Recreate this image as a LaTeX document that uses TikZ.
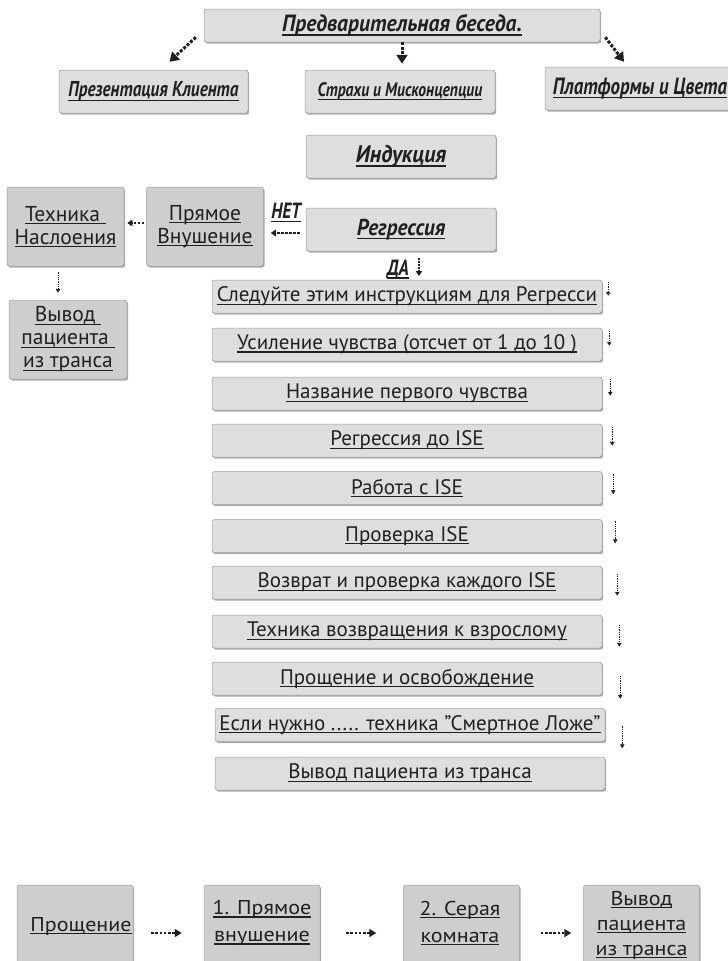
\documentclass[tikz,border=0pt]{standalone}
\usepackage{fontspec}
\setmainfont{PT Sans}
\newfontfamily\condf[FakeStretch=1.1]{PT Sans}
\newfontfamily\hA[FakeStretch=0.8]{PT Sans}
\newfontfamily\hB[FakeStretch=0.92]{PT Sans}
\usetikzlibrary{arrows.meta,shadows}
\definecolor{txt}{HTML}{231F20}
\definecolor{lightbox}{HTML}{DEDEDE}
\definecolor{darkbox}{HTML}{CECECE}
\definecolor{edge}{HTML}{9C9C9C}
\newsavebox\ulbox
\newcommand{\uln}[2][3pt]{\sbox\ulbox{#2}\rlap{\rule[-#1]{\wd\ulbox}{1.2pt}}\usebox\ulbox}
\tikzset{
  gbox/.style={rounded corners=2.5pt, draw=edge, line width=0.5pt, text=txt,
    inner sep=0pt, align=center,
    drop shadow={shadow xshift=1.2pt, shadow yshift=-1.6pt, opacity=0.55, fill=black!60}},
  hbox/.style={gbox, fill=lightbox, minimum width=190pt, minimum height=43pt},
  hfA/.style={font=\hA\bfseries\itshape\fontsize{#1}{24}\selectfont},
  hfB/.style={font=\hB\bfseries\itshape\fontsize{#1}{24}\selectfont},
  stepbox/.style={gbox, fill=lightbox, minimum width=390pt, minimum height=33pt,
    font=\fontsize{21}{24}\selectfont},
  sidebox/.style={gbox, fill=darkbox, minimum width=117pt, minimum height=79pt,
    font=\fontsize{21.5}{23}\selectfont},
  botbox/.style={gbox, fill=darkbox, minimum width=116pt, minimum height=120pt},
  bottxt/.style={text=txt, inner sep=0pt, align=center, font=\condf\fontsize{20}{27}\selectfont},
  yesno/.style={text=txt, inner sep=0pt, font=\hA\bfseries\itshape\fontsize{22}{24}\selectfont},
  bigarrow/.style={draw=txt, line width=3pt, dash pattern=on 3pt off 1.6pt,
    -{Triangle[length=9pt,width=11pt]}},
  medarrow/.style={draw=txt, line width=1.6pt, dash pattern=on 2.5pt off 1.5pt,
    -{Triangle[length=5pt,width=6.5pt]}},
  botarrow/.style={draw=txt, line width=2pt, dash pattern=on 2.6pt off 1.6pt,
    -{Triangle[length=7pt,width=8pt]}},
  tinyarrow/.style={draw=txt, line width=0.9pt, dash pattern=on 1.3pt off 1pt,
    -{Triangle[length=4pt,width=4.5pt]}},
}
\begin{document}
\begin{tikzpicture}[x=1pt,y=-1pt]
\useasboundingbox (0,0) rectangle (728,961);
\fill[white] (0,0) rectangle (728,961);
\clip (0,0) rectangle (728,961);

% top part
\node[hbox, hfB=23.5, minimum width=396pt, minimum height=33pt] (pre) at (402,25.5) {\uln[4pt]{Предварительная беседа.}};
\node[hbox, hfA=21.5, minimum width=189pt] (cli) at (153.5,91.5) {\uln[4pt]{Презентация Клиента}};
\node[hbox, hfA=19.5] (fea) at (400,91.5) {\uln[4pt]{Страхи и Мисконцепции}};
\node[hbox, hfA=23.5] (pla) at (640,88.5) {\uln[4pt]{Платформы и Цвета}};
\node[hbox, hfB=24] (ind) at (401,156.5) {\uln[4pt]{Индукция}};
\node[hbox, hfB=23] (reg) at (401,229.5) {\uln[4pt]{Регрессия}};

\draw[bigarrow] ([shift={(-8,-5)}]pre.south west) -- ([shift={(16,-8)}]cli.north);
\draw[bigarrow, shorten >=6pt] (pre.south) -- (pre.south |- fea.north);
\draw[bigarrow] ([shift={(5,-5)}]pre.south east) -- ([shift={(-16,-5)}]pla.north);

% left branch
\node[sidebox] (pry) at (205,226.5) {\uln{Прямое}\\\uln{Внушение}};
\node[sidebox] (teh) at (65.5,226.5) {\uln{Техника\ }\\\uln{Наслоения}};
\node[sidebox, minimum width=118pt] (vyv) at (68,339.5) {\uln{Вывод\ }\\\uln{пациента\ }\\\uln{из транса}};

\node[yesno] (net) at (286,213) {\uln[3.5pt]{НЕТ}};
\draw[medarrow, shorten <=6pt, shorten >=7pt] (reg.west |- 0,233) -- (pry.east |- 0,233);
\draw[medarrow, shorten <=2pt, shorten >=3pt] (pry.west |- 0,223) -- (teh.east |- 0,223);
\draw[tinyarrow, shorten <=6pt, shorten >=7pt] (teh.south -| 58,0) -- (vyv.north -| 58,0);

\node[yesno] (da) at (398,269) {\uln[3.5pt]{ДА}};
\draw[medarrow, line width=1.2pt, dash pattern=on 1.8pt off 1.2pt, shorten <=7pt, shorten >=5pt] (reg.south -| 419,0) -- (419,281);

% steps
\node[stepbox] (s1) at (407,296.5) {\uln{Следуйте этим инструкциям для Регресси}};
\node[stepbox] (s2) at (407,344.5) {\uln{Усиление чувства (отсчет от 1 до 10 )}};
\node[stepbox] (s3) at (407,393.5) {\uln{Название первого чувства}};
\node[stepbox] (s4) at (407,440.5) {\uln{Регрессия до ISE}};
\node[stepbox] (s5) at (407,488) {\uln{Работа с ISE}};
\node[stepbox] (s6) at (407,536) {\uln{Проверка ISE}};
\node[stepbox] (s7) at (407,582.5) {\uln{Возврат и проверка каждого ISE}};
\node[stepbox] (s8) at (407,631.5) {\uln{Техника возвращения к взрослому}};
\node[stepbox] (s9) at (407,678.5) {\uln{Прощение и освобождение}};
\node[stepbox] (s10) at (410,725) {\uln{Если нужно ..... техника "Смертное Ложе"}};
\node[stepbox] (s11) at (410,773.5) {\uln{Вывод пациента из транса}};

\draw[tinyarrow] ([shift={(6,2)}]s1.north east) -- ++(0,14);
\draw[tinyarrow] ([shift={(7,3)}]s2.north east) -- ++(0,15);
\draw[tinyarrow] ([shift={(8,2)}]s3.north east) -- ++(0,17);
\draw[tinyarrow] ([shift={(10,3)}]s4.north east) -- ++(0,19);
\draw[tinyarrow] ([shift={(11,3)}]s5.north east) -- ++(0,20);
\draw[tinyarrow] ([shift={(13,2)}]s6.north east) -- ++(0,22);
\draw[tinyarrow] ([shift={(15,8)}]s7.north east) -- ++(0,22);
\draw[tinyarrow] ([shift={(17,10)}]s8.north east) -- ++(0,22);
\draw[tinyarrow] ([shift={(18,14)}]s9.north east) -- ++(0,23);
\draw[tinyarrow] ([shift={(17,18)}]s10.north east) -- ++(0,22);

% bottom row
\node[botbox] (b1) at (75,945) {};
\node[botbox] (b2) at (262,945) {};
\node[botbox] (b3) at (461.5,945) {};
\node[botbox] (b4) at (641.5,945) {};
\node[bottxt] (b1t) at (81,926) {\uln{Прощение}};
\node[bottxt] (b2t) at (262,923) {\uln{1. Прямое}\\\uln{внушение}};
\node[bottxt] (b3t) at (460,923) {\uln{2. Серая}\\\uln{комната}};
\node[bottxt, font=\condf\fontsize{20}{25}\selectfont] (b4t) at (641.5,925) {\uln{Вывод}\\\uln{пациента}\\\uln{из транса}};
\draw[botarrow, shorten <=18pt, shorten >=22pt] (b1.east |- 0,933) -- (b2.west |- 0,933);
\draw[botarrow, shorten <=26pt, shorten >=27pt] (b2.east |- 0,933) -- (b3.west |- 0,933);
\draw[botarrow, shorten <=21pt, shorten >=12pt] (b3.east |- 0,933) -- (b4.west |- 0,933);
\end{tikzpicture}
\end{document}
